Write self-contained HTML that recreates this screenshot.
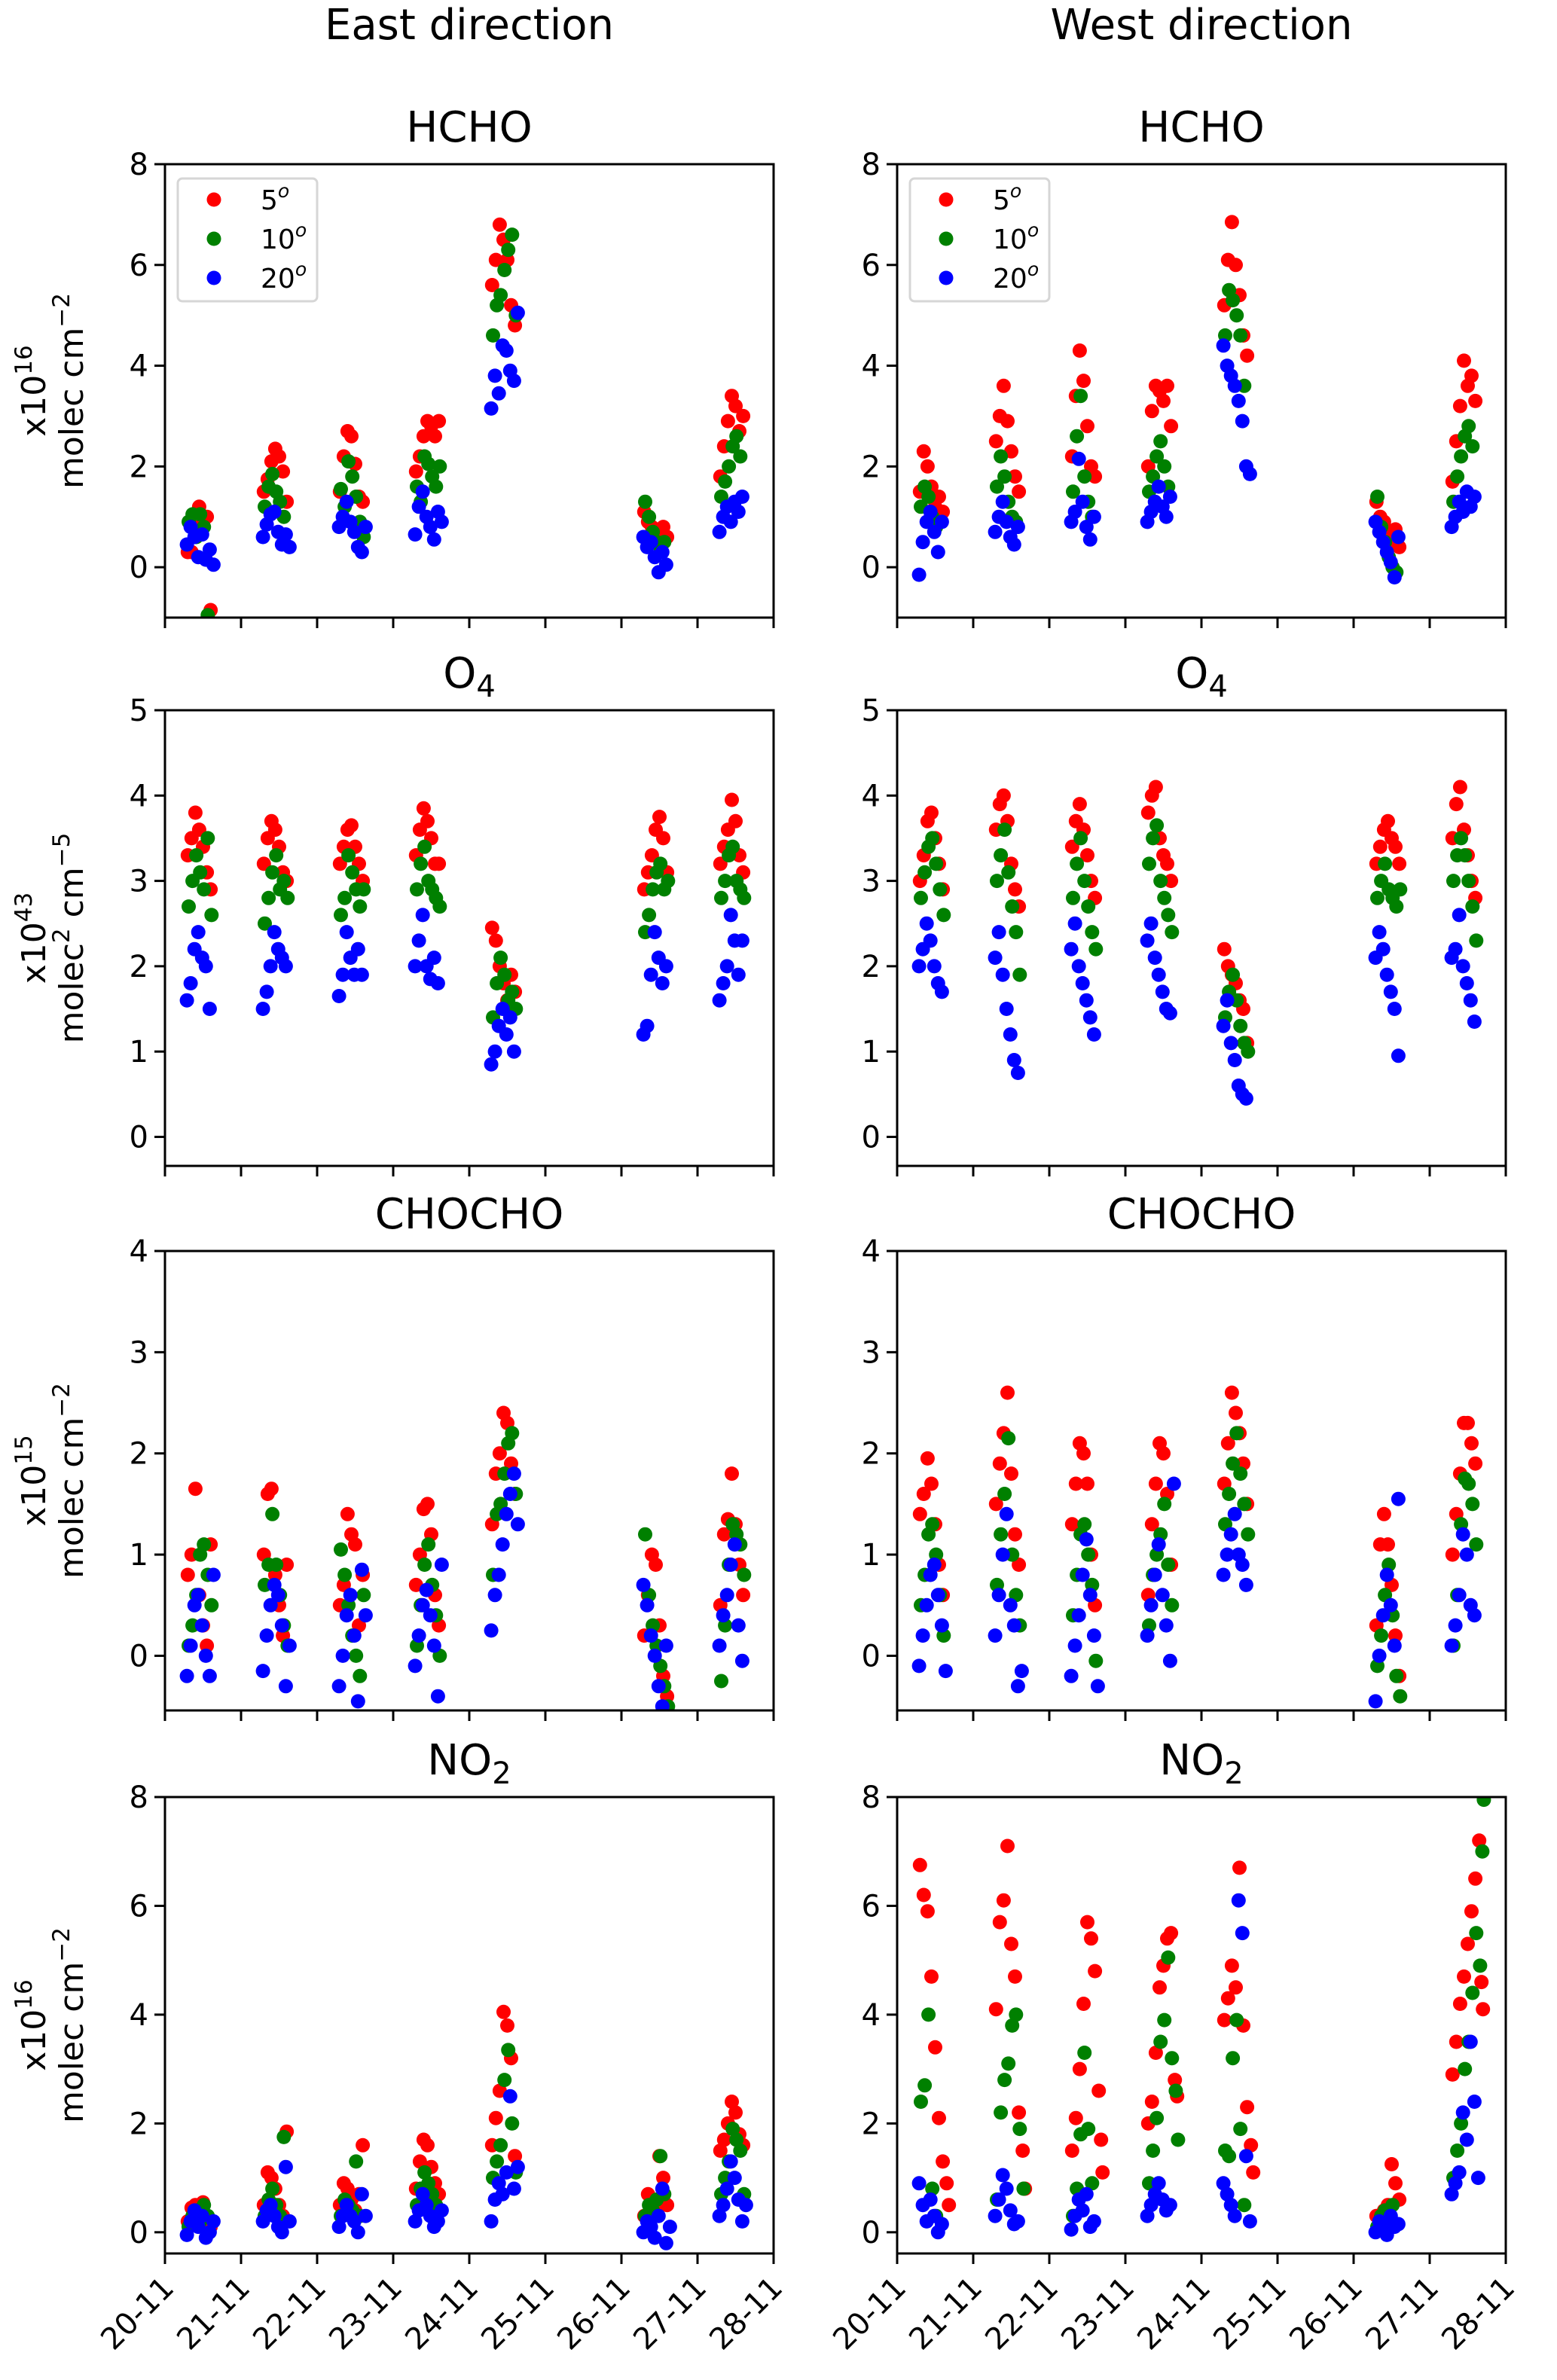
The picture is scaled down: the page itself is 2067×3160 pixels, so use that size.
<!DOCTYPE html>
<html><head><meta charset="utf-8">
<style>
html,body{margin:0;padding:0;background:#fff;}
svg{display:block;font-family:"DejaVu Sans","Liberation Sans",sans-serif;}
</style></head>
<body>
<svg id="fig" width="2067" height="3160" viewBox="0 0 2067 3160" xmlns="http://www.w3.org/2000/svg">
<rect x="0" y="0" width="2067" height="3160" fill="#fff"/>
<text x="623" y="52" font-size="56" text-anchor="middle">East direction</text>
<text x="1595" y="52" font-size="56" text-anchor="middle">West direction</text>
</svg>
<script>
// ---------- data ----------
const dayLabels = ["20-11","21-11","22-11","23-11","24-11","25-11","26-11","27-11","28-11"];
const obsDays = [0,1,2,3,4,6,7];
const scanOffsets = [0.30,0.35,0.40,0.45,0.50,0.55,0.60,0.65,0.68,0.70];

const eHchoRed = [[0.3,0.3,0.9,1.2,0.8,1.0,-0.85],[1.5,1.75,2.1,2.35,2.2,1.9,1.3],[1.5,2.2,2.7,2.6,2.05,1.4,1.3],[1.9,2.2,2.6,2.9,2.8,2.6,2.9],[5.6,6.1,6.8,6.5,6.1,5.2,4.8],[1.1,0.9,0.8,0.75,0.6,0.8,0.6],[1.8,2.4,2.9,3.4,3.2,2.7,3.0]];
const eHchoGreen = [[0.9,1.05,0.6,1.05,0.8,-0.95],[1.2,1.6,1.85,1.5,1.3,1.0],[1.55,1.2,2.1,1.8,1.4,0.9,0.6],[1.6,1.3,2.2,2.05,1.8,1.6,2.0],[4.6,5.2,5.4,5.9,6.3,6.6,5.0],[1.3,1.0,0.7,0.5,0.4,0.5],[1.4,1.7,2.0,2.4,2.6,2.2]];
const eHchoBlue = [[0.45,0.8,0.6,0.2,0.65,0.15,0.35,0.05],[0.6,0.85,1.05,1.1,0.7,0.45,0.65,0.4],[0.8,1.0,1.3,0.9,0.7,0.4,0.3,0.8],[0.65,1.2,1.5,1.0,0.8,0.55,1.1,0.9],[3.15,3.8,3.45,4.4,4.3,3.9,3.7,5.05],[0.6,0.4,0.5,0.2,-0.1,0.3,0.05],[0.7,1.0,1.2,0.9,1.3,1.1,1.4]];

const wHchoRed = [[1.5,2.3,2.0,1.6,1.2,1.4,1.1],[2.5,3.0,3.6,2.9,2.3,1.8,1.5],[2.2,3.4,4.3,3.7,2.8,2.0,1.8],[2.0,3.1,3.6,3.5,3.3,3.6,2.8],[5.2,6.1,6.85,6.0,5.4,4.6,4.2],[1.3,1.0,0.9,0.7,0.5,0.75,0.4],[1.7,2.5,3.2,4.1,3.6,3.8,3.3]];
const wHchoGreen = [[1.2,1.6,1.4,1.0,0.8],[1.6,2.2,1.8,1.3,1.0,0.9],[1.5,2.6,3.4,1.8,1.3,1.0],[1.5,1.8,2.2,2.5,2.0,1.6],[4.6,5.5,5.3,5.0,4.6,3.6],[1.4,0.8,0.5,0.2,0.0,-0.1],[1.3,1.8,2.2,2.6,2.8,2.4]];
const wHchoBlue = [[-0.15,0.5,0.9,1.1,0.7,0.3,0.9],[0.7,1.0,1.3,0.9,0.6,0.45,0.8],[0.9,1.1,2.15,1.3,0.8,0.55,1.0],[0.9,1.1,1.3,1.6,1.2,1.0,1.4],[4.4,4.0,3.8,3.6,3.3,2.9,2.0,1.85],[0.9,0.7,0.5,0.3,0.1,-0.2,0.6],[0.8,1.0,1.3,1.1,1.5,1.2,1.4]];

const eO4Red = [[3.3,3.5,3.8,3.6,3.4,3.1,2.9],[3.2,3.5,3.7,3.6,3.4,3.1,3.0],[3.2,3.4,3.6,3.65,3.4,3.2,3.0],[3.3,3.6,3.85,3.7,3.5,3.2,3.2],[2.45,2.3,2.0,1.8,1.6,1.9,1.7],[2.9,3.1,3.3,3.6,3.75,3.5,3.1],[3.2,3.4,3.6,3.95,3.7,3.3,3.1]];
const eO4Green = [[2.7,3.0,3.3,3.1,2.9,3.5,2.6],[2.5,2.8,3.1,3.3,2.9,3.0,2.8],[2.6,2.8,3.3,3.1,2.9,2.7,2.9],[2.9,3.2,3.4,3.0,2.9,2.8,2.7],[1.4,1.8,2.1,1.9,1.6,1.7,1.5],[2.4,2.6,2.9,3.1,3.2,2.9,3.0],[2.8,3.0,3.3,3.4,3.0,2.9,2.8]];
const eO4Blue = [[1.6,1.8,2.2,2.4,2.1,2.0,1.5],[1.5,1.7,2.0,2.4,2.2,2.1,2.0],[1.65,1.9,2.4,2.1,1.9,2.2,1.9],[2.0,2.3,2.6,2.0,1.85,2.1,1.8],[0.85,1.0,1.3,1.5,1.2,1.4,1.0],[1.2,1.3,1.9,2.4,2.1,1.8,2.0],[1.6,1.8,2.0,2.6,2.3,1.9,2.3]];

const wO4Red = [[3.0,3.3,3.7,3.8,3.5,3.2,2.9],[3.6,3.9,4.0,3.7,3.2,2.9,2.7],[3.4,3.7,3.9,3.6,3.3,3.0,2.8],[3.8,4.0,4.1,3.5,3.3,3.2,3.0],[2.2,2.0,1.9,1.8,1.6,1.5,1.1],[3.2,3.4,3.6,3.7,3.5,3.4,3.2],[3.5,3.9,4.1,3.6,3.3,3.0,2.8]];
const wO4Green = [[2.8,3.1,3.4,3.5,3.2,2.9,2.6],[3.0,3.3,3.6,3.1,2.7,2.4,1.9],[2.8,3.2,3.5,3.0,2.7,2.4,2.2],[3.2,3.5,3.65,3.0,2.8,2.6,2.4],[1.4,1.7,1.9,1.6,1.3,1.1,1.0],[2.8,3.0,3.2,2.9,2.8,2.7,2.9],[3.0,3.3,3.5,3.3,3.0,2.7,2.3]];
const wO4Blue = [[2.0,2.2,2.5,2.3,2.0,1.8,1.7],[2.1,2.4,1.9,1.5,1.2,0.9,0.75],[2.2,2.5,2.0,1.8,1.6,1.4,1.2],[2.3,2.5,2.1,1.9,1.7,1.5,1.45],[1.3,1.6,1.1,0.9,0.6,0.5,0.45],[2.1,2.4,2.2,1.9,1.7,1.5,0.95],[2.1,2.2,2.6,2.0,1.8,1.6,1.35]];

const eGlyRed = [[0.8,1.0,1.65,0.6,0.3,0.1,1.1],[1.0,1.6,1.65,0.8,0.5,0.2,0.9],[0.5,0.7,1.4,1.2,1.1,0.3,0.8],[0.7,1.0,1.45,1.5,1.2,0.6,0.3],[1.3,1.8,2.0,2.4,2.3,1.9,1.6],[0.2,0.6,1.0,0.9,0.3,-0.2,-0.4],[0.5,1.2,1.35,1.8,1.3,0.9,0.6]];
const eGlyGreen = [[0.1,0.3,0.6,1.0,1.1,0.8,0.5],[0.7,0.9,1.4,0.9,0.6,0.3,0.1],[1.05,0.8,0.5,0.2,0.0,-0.2,0.6],[0.1,0.5,0.9,1.1,0.7,0.4,0.0],[0.8,1.4,1.5,1.8,2.1,2.2,1.6],[1.2,0.6,0.3,0.1,-0.1,-0.3,-0.5],[-0.25,0.3,0.9,1.3,1.2,1.1,0.8]];
const eGlyBlue = [[-0.2,0.1,0.5,0.6,0.3,0.0,-0.2,0.8],[-0.15,0.2,0.5,0.7,0.6,0.3,-0.3,0.1],[-0.3,0.0,0.4,0.6,0.2,-0.45,0.85,0.4],[-0.1,0.2,0.5,0.65,0.4,0.1,-0.4,0.9],[0.25,0.6,0.8,1.1,1.4,1.6,1.8,1.3],[0.7,0.5,0.2,0.0,-0.3,-0.5,0.1],[0.1,0.4,0.6,0.9,1.1,0.3,-0.05]];

const wGlyRed = [[1.4,1.6,1.95,1.7,1.3,0.9,0.6],[1.5,1.9,2.2,2.6,1.8,1.2,0.9],[1.3,1.7,2.1,2.0,1.7,1.0,0.5],[0.6,1.3,1.7,2.1,2.0,1.6,0.9],[1.7,2.1,2.6,2.4,2.2,1.9,1.5],[0.3,1.1,1.4,1.1,0.7,0.2,-0.2],[1.0,1.4,1.8,2.3,2.3,2.1,1.9]];
const wGlyGreen = [[0.5,0.8,1.2,1.3,1.0,0.6,0.2],[0.7,1.2,1.6,2.15,1.0,0.6,0.3],[0.4,0.8,1.2,1.3,1.0,0.7,-0.05],[0.3,0.8,1.0,1.2,1.5,0.9,0.5],[1.3,1.6,1.9,2.2,1.8,1.5,1.2],[-0.1,0.2,0.6,0.9,0.4,-0.2,-0.4],[0.1,0.6,1.3,1.75,1.7,1.5,1.1]];
const wGlyBlue = [[-0.1,0.2,0.5,0.8,0.9,0.6,0.3,-0.15],[0.2,0.6,1.0,1.4,0.5,0.3,-0.3,-0.15],[-0.2,0.1,0.4,0.8,1.15,0.6,0.2,-0.3],[0.2,0.5,0.8,1.1,0.6,0.3,-0.05,1.7],[0.8,1.0,1.2,1.4,1.0,0.9,0.7],[-0.45,0.0,0.4,0.8,0.5,0.1,1.55],[0.1,0.3,0.6,1.2,1.0,0.5,0.4]];

const eNo2Red = [[0.2,0.45,0.5,0.3,0.55,0.2,0.1],[0.5,1.1,1.0,0.8,0.5,0.3,1.85],[0.5,0.9,0.8,0.6,0.4,0.7,1.6],[0.8,1.3,1.7,1.6,1.2,0.9,0.7],[1.6,2.1,2.6,4.05,3.8,3.2,1.4],[0.3,0.7,0.5,0.4,1.4,1.0,0.5],[1.5,1.7,2.0,2.4,2.2,1.8,1.6]];
const eNo2Green = [[0.1,0.3,0.4,0.2,0.5,0.3],[0.3,0.6,0.8,0.5,0.3,1.75],[0.3,0.6,0.5,0.4,1.3,0.3],[0.5,0.8,1.1,0.9,0.7,0.5],[1.0,1.3,1.6,2.8,3.35,2.0,1.1],[0.3,0.5,0.4,0.6,1.4,0.7],[0.7,1.0,1.3,1.9,1.7,1.5,0.7]];
const eNo2Blue = [[-0.05,0.2,0.4,0.1,0.3,-0.1,0.0,0.2],[0.2,0.4,0.5,0.3,0.1,0.0,1.2,0.2],[0.1,0.3,0.5,0.3,0.2,0.0,0.7,0.3],[0.2,0.4,0.7,0.5,0.3,0.1,0.2,0.4],[0.2,0.6,0.9,0.7,1.1,2.5,0.8,1.2],[0.0,0.2,0.1,-0.1,0.3,0.8,-0.2,0.1],[0.3,0.5,0.8,1.3,1.0,0.6,0.2,0.5]];

const wNo2Red = [[6.75,6.2,5.9,4.7,3.4,2.1,1.3,0.9,0.5],[4.1,5.7,6.1,7.1,5.3,4.7,2.2,1.5,0.8],[1.5,2.1,3.0,4.2,5.7,5.4,4.8,2.6,1.7,1.1],[2.0,2.4,3.3,4.5,4.9,5.4,5.5,2.8,2.5],[3.9,4.3,4.9,4.5,6.7,3.8,2.3,1.6,1.1],[0.3,0.2,0.4,0.5,1.25,0.9,0.6],[2.9,3.5,4.2,4.7,5.3,5.9,6.5,7.2,4.6,4.1]];
const wNo2Green = [[2.4,2.7,4.0,0.8,0.3],[0.6,2.2,2.8,3.1,3.8,4.0,1.9,0.8],[0.3,0.8,1.8,3.3,1.9,0.9],[0.9,1.5,2.1,3.5,3.9,5.05,3.2,2.6,1.7],[1.5,1.4,3.2,3.9,1.9,0.5],[0.1,0.3,0.4,0.2,0.5],[1.0,1.5,2.0,3.0,3.5,4.4,5.5,4.9,7.0,7.95]];
const wNo2Blue = [[0.9,0.5,0.2,0.6,0.3,0.0,0.15],[0.3,0.6,1.05,0.8,0.4,0.15,0.2],[0.05,0.3,0.6,0.4,0.7,0.1,0.2],[0.3,0.5,0.7,0.9,0.6,0.4,0.5],[0.9,0.7,0.5,0.3,6.1,5.5,1.4,0.2],[0.0,0.2,0.1,-0.05,0.3,0.1,0.15],[0.7,0.9,1.1,2.2,1.7,3.5,2.4,1.0]];

const ticksHcho = [0,2,4,6,8];
const ticksO4 = [0,1,2,3,4,5];
const ticksGly = [0,1,2,3,4];
const ticksNo2 = [0,2,4,6,8];

// ---------- layout ----------
const NS = "http://www.w3.org/2000/svg";
const svg = document.getElementById("fig");
function mk(tag, attrs, parent){
  const e = document.createElementNS(NS, tag);
  for (const k in attrs) e.setAttribute(k, attrs[k]);
  (parent||svg).appendChild(e);
  return e;
}
const cols = [{x0:219,x1:1027,dir:"east"},{x0:1191,x1:1999,dir:"west"}];
const rows = [
 {y0:218,y1:820,lo:-1,hi:8,ticks:ticksHcho,title:["HCHO",""],exp:"16",unit:["molec cm","−2",""],key:"hcho"},
 {y0:943,y1:1548,lo:-0.34,hi:5,ticks:ticksO4,title:["O","4"],exp:"43",unit:["molec","2"," cm","−5"],key:"o4"},
 {y0:1661,y1:2271,lo:-0.54,hi:4,ticks:ticksGly,title:["CHOCHO",""],exp:"15",unit:["molec cm","−2",""],key:"chocho"},
 {y0:2386,y1:2992,lo:-0.39,hi:8,ticks:ticksNo2,title:["NO","2"],exp:"16",unit:["molec cm","−2",""],key:"no2"}
];
const series = {
 east:{hcho:[eHchoRed,eHchoGreen,eHchoBlue],o4:[eO4Red,eO4Green,eO4Blue],chocho:[eGlyRed,eGlyGreen,eGlyBlue],no2:[eNo2Red,eNo2Green,eNo2Blue]},
 west:{hcho:[wHchoRed,wHchoGreen,wHchoBlue],o4:[wO4Red,wO4Green,wO4Blue],chocho:[wGlyRed,wGlyGreen,wGlyBlue],no2:[wNo2Red,wNo2Green,wNo2Blue]}
};
const colors = ["#ff0000","#008000","#0000ff"];
const colorNames = ["5deg","10deg","20deg"];
const colorShift = [0,0.012,-0.012];

rows.forEach((r, ri) => {
  cols.forEach((c, ci) => {
    const xs = d => c.x0 + (d/8)*(c.x1-c.x0);
    const ys = v => r.y1 - (v - r.lo)/(r.hi - r.lo)*(r.y1-r.y0);
    const g = mk("g", {});
    
    
    const cid = "clip"+ri+ci;
    const cp = mk("clipPath", {id:cid}, g);
    mk("rect", {x:c.x0, y:r.y0, width:c.x1-c.x0, height:r.y1-r.y0}, cp);
    // title
    const t = mk("text", {x:(c.x0+c.x1)/2, y:r.y0-30, "font-size":56, "text-anchor":"middle"}, g);
    
    
    t.textContent = r.title[0];
    if (r.title[1]) { const s = mk("tspan", {"font-size":40, dy:12}, t); s.textContent = r.title[1]; }
    // points
    const pg = mk("g", {"clip-path":"url(#"+cid+")"}, g);
    series[c.dir][r.key].forEach((ser, si) => {
      ser.forEach((cluster, k) => {
        cluster.forEach((v, i) => {
          const day = obsDays[k] + scanOffsets[i] + colorShift[si];
          const p = mk("circle", {cx:xs(day).toFixed(1), cy:ys(v).toFixed(1), r:9.5, fill:colors[si]}, pg);
          
          
        });
      });
    });
    // frame
    const fr = mk("rect", {x:c.x0, y:r.y0, width:c.x1-c.x0, height:r.y1-r.y0, fill:"none", stroke:"#000", "stroke-width":3}, g);
    
    
    // y ticks
    r.ticks.forEach(tv => {
      const y = ys(tv);
      mk("line", {x1:c.x0-14, x2:c.x0, y1:y, y2:y, stroke:"#000", "stroke-width":3}, g);
      const tl = mk("text", {x:c.x0-22, y:y+14, "font-size":40, "text-anchor":"end"}, g);
      
      
      tl.textContent = tv;
    });
    // x ticks
    dayLabels.forEach((lab, d) => {
      const x = xs(d);
      mk("line", {x1:x, x2:x, y1:r.y1, y2:r.y1+14, stroke:"#000", "stroke-width":3}, g);
      if (ri === 3) {
        const xl = mk("text", {x:0, y:0, "font-size":40, "text-anchor":"end", transform:"translate("+(x+14)+","+(r.y1+48)+") rotate(-45)"}, g);
        
        
        xl.textContent = lab;
      }
    });
    // y label
    if (ci === 0) {
      const cy = (r.y0+r.y1)/2;
      const l1 = mk("text", {x:0, y:0, "font-size":44, "text-anchor":"middle", transform:"translate(60,"+cy+") rotate(-90)"}, g);
      
      
      l1.textContent = "x10";
      const e1 = mk("tspan", {"font-size":31, dy:-18}, l1); e1.textContent = r.exp;
      const l2 = mk("text", {x:0, y:0, "font-size":44, "text-anchor":"middle", transform:"translate(110,"+cy+") rotate(-90)"}, g);
      
      
      l2.textContent = r.unit[0];
      const s1 = mk("tspan", {"font-size":31, dy:-18}, l2); s1.textContent = r.unit[1];
      if (r.unit[2]) {
        const s2 = mk("tspan", {dy:18}, l2); s2.textContent = r.unit[2];
        const s3 = mk("tspan", {"font-size":31, dy:-18}, l2); s3.textContent = r.unit[3];
      }
    }
    // legend
    if (ri === 0) {
      const lg = mk("g", {}, g);
      
      
      const lx = c.x0 + 17;
      mk("rect", {x:lx, y:237, width:185, height:163, rx:6, fill:"#fff", stroke:"#d6d6d6", "stroke-width":3}, lg);
      ["5","10","20"].forEach((lab, i) => {
        const yy = 265 + i*52;
        const m = mk("circle", {cx:lx+48, cy:yy, r:9.5, fill:colors[i]}, lg);
        
        
        const tx = mk("text", {x:lx+110, y:yy+13, "font-size":36}, lg);
        
        
        tx.textContent = lab;
        const sp = mk("tspan", {"font-size":25, dy:-16, "font-style":"italic"}, tx); sp.textContent = "o";
      });
    }
  });
});
</script>
</body></html>
